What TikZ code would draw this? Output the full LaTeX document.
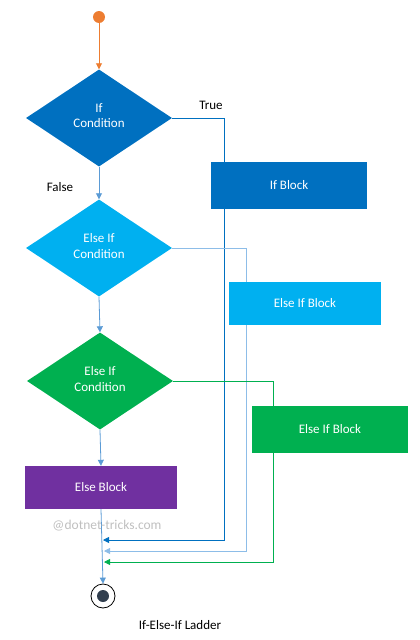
\documentclass[tikz,border=0pt]{standalone}
\usepackage{fontspec}
\setmainfont{Carlito}
\usetikzlibrary{shapes.geometric,arrows.meta,backgrounds}
\definecolor{cBlue}{HTML}{0070C0}
\definecolor{cSky}{HTML}{00B0F0}
\definecolor{cGreen}{HTML}{00B050}
\definecolor{cPurple}{HTML}{7030A0}
\definecolor{cOrange}{HTML}{ED7D31}
\definecolor{cLine}{HTML}{5B9BD5}
\definecolor{cLight}{HTML}{8DBDE8}
\definecolor{cDark}{HTML}{323F4F}
\tikzset{
  txt/.style={font=\fontsize{13}{16}\selectfont},
  cond/.style={diamond, draw=none, fill=#1, minimum width=146pt, minimum height=97pt, inner sep=0pt, text=white, align=center, txt},
  blk/.style={rectangle, draw=none, fill=#1, text=white, inner sep=0pt, txt},
  tip/.style={-{Triangle[width=6pt,length=6pt]}},
  conn/.style={draw=#1, line width=0.8pt},
}
\begin{document}
\begin{tikzpicture}[x=1pt,y=-1pt]
\useasboundingbox (0,0) rectangle (420,640);
\node[circle, fill=cOrange, minimum size=12pt, inner sep=0pt] (start) at (99,17) {};
\node[cond=cBlue] (d1) at (99,118) {\raisebox{4pt}{\shortstack{If\\[3pt]Condition}}};
\node[cond=cSky] (d2) at (99,248) {\raisebox{4pt}{\shortstack{Else If\\[3pt]Condition}}};
\node[cond=cGreen] (d3) at (100,381) {\raisebox{4pt}{\shortstack{Else If\\[3pt]Condition}}};
\node[blk=cBlue, minimum width=156pt, minimum height=47pt] (b1) at (289,185.5) {\raisebox{1pt}{If Block}};
\node[blk=cSky, minimum width=152pt, minimum height=43pt] (b2) at (305,303.5) {\raisebox{1pt}{Else If Block}};
\node[blk=cGreen, minimum width=156pt, minimum height=47pt] (b3) at (330,429.5) {\raisebox{1pt}{Else If Block}};
\node[blk=cPurple, minimum width=152pt, minimum height=43pt] (b4) at (101,487.5) {\raisebox{1pt}{Else Block}};
\node[circle, draw=black, line width=0.8pt, minimum size=24pt, inner sep=0pt] (end) at (103,596) {};
\node[circle, fill=cDark, minimum size=12pt, inner sep=0pt] (endin) at (end.center) {};
\node[txt, text=black] (ltrue) at (211,105) {True};
\node[txt, text=black] (lfalse) at (60,187) {False};
\node[font=\fontsize{13.5}{16}\selectfont, text=black!25] (wm) at (107,526) {@dotnet-tricks.com};
\node[txt, text=black] (cap) at (180,625) {If-Else-If Ladder};
\coordinate (t1) at (224,118);
\coordinate (t2) at (224,540);
\coordinate (m1) at (103,540);
\coordinate (u1) at (246,248);
\coordinate (u2) at (246,551);
\coordinate (m2) at (104,551);
\coordinate (g1) at (273,381);
\coordinate (g2) at (273,562);
\coordinate (m3) at (104,562);
\begin{scope}[on background layer]
\draw[conn=cOrange, tip] (start) -- (d1.north);
\draw[conn=cLine, tip] (d1.south) -- (d2.north);
\draw[conn=cLine, tip] (d2.south) -- (d3.north);
\draw[conn=cLine, tip] (d3.south) -- (b4.north);
\draw[conn=cLine, tip] (b4.south) -- (end.north);
\draw[conn=cBlue, tip] (d1.east) -- (t1) -- (t2) -- (m1);
\draw[conn=cLight, tip] (d2.east) -- (u1) -- (u2) -- (m2);
\draw[conn=cGreen, tip] (d3.east) -- (g1) -- (g2) -- (m3);
\end{scope}
\end{tikzpicture}
\end{document}
